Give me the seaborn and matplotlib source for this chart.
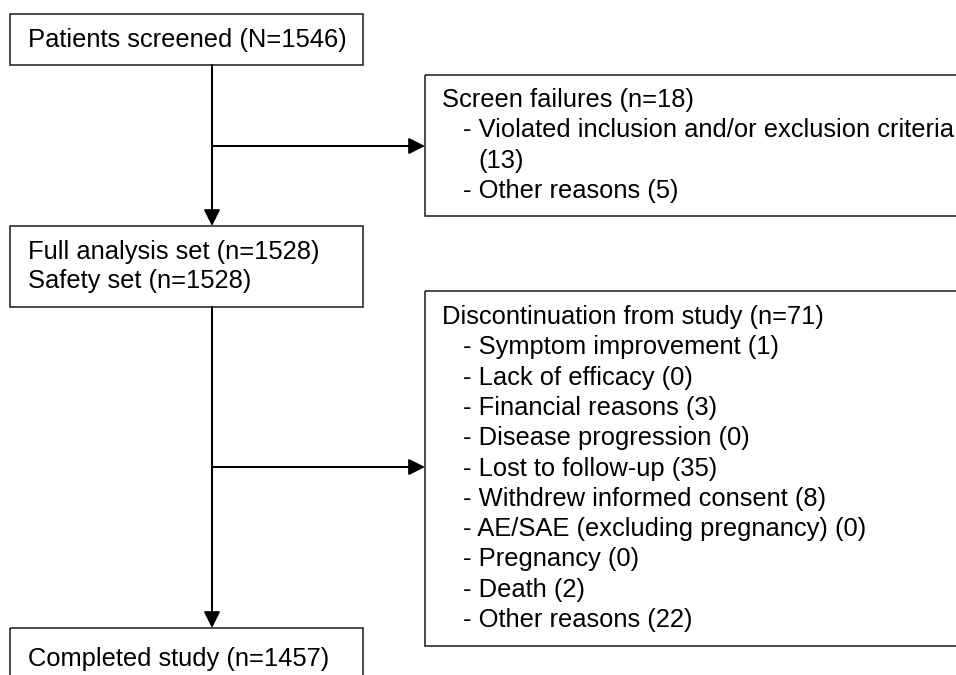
import matplotlib
matplotlib.use("Agg")
import matplotlib.pyplot as plt
from matplotlib.patches import Rectangle
import seaborn as sns

# ---- data ----
screened_n = 1546
screen_fail_reasons = ["Violated inclusion and/or exclusion criteria", "Other reasons"]
screen_fail_counts = [13, 5]
fas_n = 1528
safety_n = 1528
disc_reasons = ["Symptom improvement", "Lack of efficacy", "Financial reasons",
                "Disease progression", "Lost to follow-up", "Withdrew informed consent",
                "AE/SAE (excluding pregnancy)", "Pregnancy", "Death", "Other reasons"]
disc_counts = [1, 0, 3, 0, 35, 8, 0, 0, 2, 22]
completed_n = 1457

sns.set_theme(style="white")
plt.rcParams['font.family'] = ['Liberation Sans', 'DejaVu Sans']

W, H = 956, 675
fig = plt.figure(figsize=(W / 100, H / 100), dpi=100)
ax = fig.add_axes([0, 0, 1, 1])
ax.set_xlim(0, W)
ax.set_ylim(H, 0)
ax.axis("off")

FS = 18.4
LW = 1.1
EC = "#1a1a1a"
LS = 30.3  # line spacing in px


def box(x0, y0, x1, y1):
    ax.add_patch(Rectangle((x0, y0), x1 - x0, y1 - y0, fill=False,
                           edgecolor=EC, linewidth=LW, clip_on=True))


def txt(x, y, s):
    ax.text(x, y, s, fontsize=FS, ha="left", va="baseline", color="black")


def arrow(x0, y0, x1, y1):
    ax.annotate("", xy=(x1, y1), xytext=(x0, y0),
                arrowprops=dict(arrowstyle="-|>,head_length=0.7,head_width=0.35",
                                color="black", lw=1.45,
                                shrinkA=0, shrinkB=0, mutation_scale=14))


# Box 1: screened
box(10, 14, 363, 65)
txt(28, 47, f"Patients screened (N={screened_n})")

# Screen failures box
box(425, 75, 1000, 216)
y = 107
txt(442, y, f"Screen failures (n={sum(screen_fail_counts)})")
y += LS
txt(463, y, f"- {screen_fail_reasons[0]}")
y += LS
txt(478, y, f"({screen_fail_counts[0]})")
y += LS
txt(463, y, f"- {screen_fail_reasons[1]} ({screen_fail_counts[1]})")

# Box 2: FAS / safety
box(10, 226, 363, 307)
txt(28, 259, f"Full analysis set (n={fas_n})")
txt(28, 288, f"Safety set (n={safety_n})")

# Discontinuation box
box(425, 291, 1000, 646)
y = 324
txt(442, y, f"Discontinuation from study (n={sum(disc_counts)})")
for r, c in zip(disc_reasons, disc_counts):
    y += LS
    txt(463, y, f"- {r} ({c})")

# Completed box
box(10, 628, 363, 720)
txt(28, 666, f"Completed study (n={completed_n})")

# connectors
arrow(212, 65, 212, 226)
arrow(212, 146, 425, 146)
arrow(212, 307, 212, 628)
arrow(212, 467, 425, 467)

fig.savefig("out.png", dpi=100)
